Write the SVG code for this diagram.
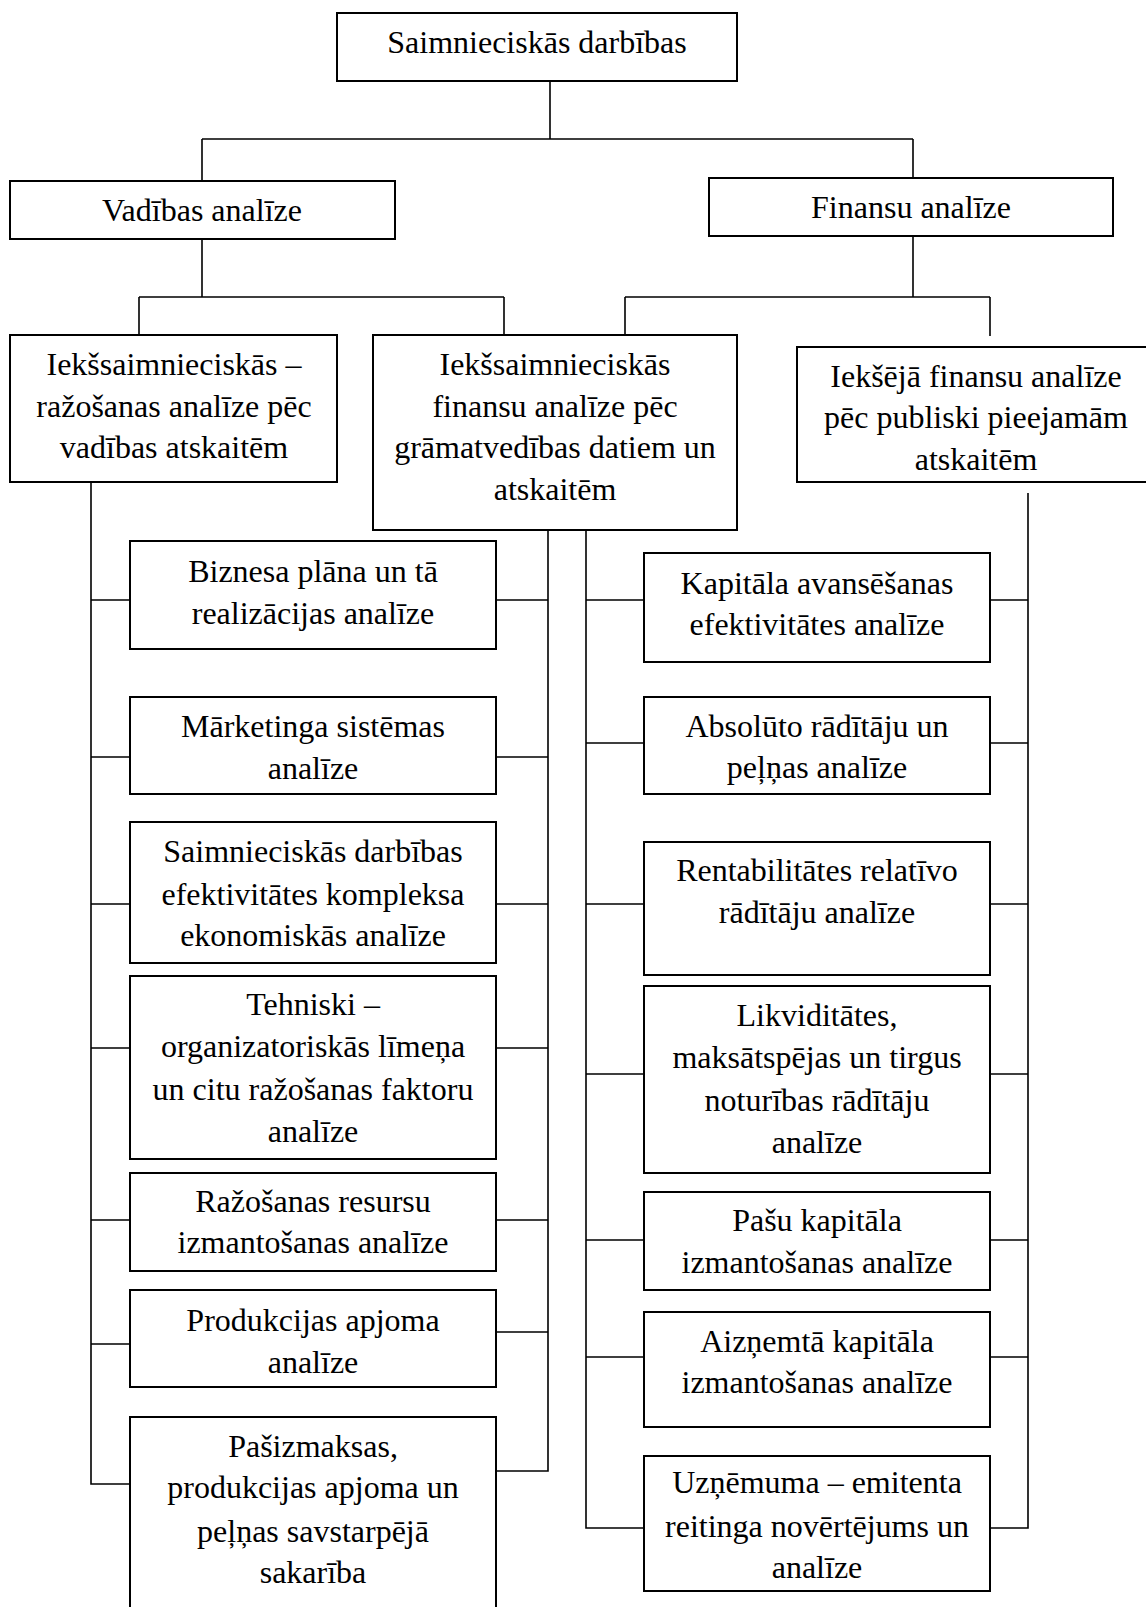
<svg xmlns="http://www.w3.org/2000/svg" width="1146" height="1607" viewBox="0 0 1146 1607">
<style>
.box{fill:#fff;stroke:#000;stroke-width:2}
.ln{fill:none;stroke:#000;stroke-width:1.6}
text{font-family:"Liberation Serif","Times New Roman",serif;font-size:32px;fill:#000;text-anchor:middle}
</style>
<rect width="1146" height="1607" fill="#fff"/>
<g id="connectors">
<path class="ln" d="M550 81V139M202 139H913M202 139V181M913 139V178"/>
<path class="ln" d="M202 239V297M139 297H504M139 297V335M504 297V335"/>
<path class="ln" d="M913 236V297M625 297H990M625 297V335M990 297V336"/>
<path class="ln" d="M91 482V1484H130M548 530V1471H496M586 530V1528H644M1028 493V1528H990"/>
<path class="ln" d="M91 600H130M496 600H548M91 757H130M496 757H548M91 904H130M496 904H548M91 1048H130M496 1048H548M91 1220H130M496 1220H548M91 1344H130M496 1332H548"/>
<path class="ln" d="M586 600H644M990 600H1028M586 743H644M990 743H1028M586 904H644M990 904H1028M586 1074H644M990 1074H1028M586 1240H644M990 1240H1028M586 1357H644M990 1357H1028"/>
</g>
<g id="root"><rect class="box" x="337" y="13" width="400" height="68"/><text x="537" y="53">Saimnieciskās darbības</text></g>
<g id="vadibas"><rect class="box" x="10" y="181" width="385" height="58"/><text x="202" y="221">Vadības analīze</text></g>
<g id="finansu"><rect class="box" x="709" y="178" width="404" height="58"/><text x="911" y="218">Finansu analīze</text></g>
<g id="iek1"><rect class="box" x="10" y="335" width="327" height="147"/><text x="174" y="375">Iekšsaimnieciskās –</text><text x="174" y="417">ražošanas analīze pēc</text><text x="174" y="458">vadības atskaitēm</text></g>
<g id="iek2"><rect class="box" x="373" y="335" width="364" height="195"/><text x="555" y="375">Iekšsaimnieciskās</text><text x="555" y="417">finansu analīze pēc</text><text x="555" y="458">grāmatvedības datiem un</text><text x="555" y="500">atskaitēm</text></g>
<g id="iek3"><rect class="box" x="797" y="347" width="360" height="135"/><text x="976" y="387">Iekšējā finansu analīze</text><text x="976" y="428">pēc publiski pieejamām</text><text x="976" y="470">atskaitēm</text></g>
<g id="l1"><rect class="box" x="130" y="541" width="366" height="108"/><text x="313" y="582">Biznesa plāna un tā</text><text x="313" y="624">realizācijas analīze</text></g>
<g id="l2"><rect class="box" x="130" y="697" width="366" height="97"/><text x="313" y="737">Mārketinga sistēmas</text><text x="313" y="779">analīze</text></g>
<g id="l3"><rect class="box" x="130" y="822" width="366" height="141"/><text x="313" y="862">Saimnieciskās darbības</text><text x="313" y="905">efektivitātes kompleksa</text><text x="313" y="946">ekonomiskās analīze</text></g>
<g id="l4"><rect class="box" x="130" y="976" width="366" height="183"/><text x="313" y="1015">Tehniski –</text><text x="313" y="1057">organizatoriskās līmeņa</text><text x="313" y="1100">un citu ražošanas faktoru</text><text x="313" y="1142">analīze</text></g>
<g id="l5"><rect class="box" x="130" y="1173" width="366" height="98"/><text x="313" y="1212">Ražošanas resursu</text><text x="313" y="1253">izmantošanas analīze</text></g>
<g id="l6"><rect class="box" x="130" y="1290" width="366" height="97"/><text x="313" y="1331">Produkcijas apjoma</text><text x="313" y="1373">analīze</text></g>
<g id="l7"><rect class="box" x="130" y="1417" width="366" height="210"/><text x="313" y="1457">Pašizmaksas,</text><text x="313" y="1498">produkcijas apjoma un</text><text x="313" y="1542">peļņas savstarpējā</text><text x="313" y="1583">sakarība</text></g>
<g id="r1"><rect class="box" x="644" y="553" width="346" height="109"/><text x="817" y="594">Kapitāla avansēšanas</text><text x="817" y="635">efektivitātes analīze</text></g>
<g id="r2"><rect class="box" x="644" y="697" width="346" height="97"/><text x="817" y="737">Absolūto rādītāju un</text><text x="817" y="778">peļņas analīze</text></g>
<g id="r3"><rect class="box" x="644" y="842" width="346" height="133"/><text x="817" y="881">Rentabilitātes relatīvo</text><text x="817" y="923">rādītāju analīze</text></g>
<g id="r4"><rect class="box" x="644" y="986" width="346" height="187"/><text x="817" y="1026">Likviditātes,</text><text x="817" y="1068">maksātspējas un tirgus</text><text x="817" y="1111">noturības rādītāju</text><text x="817" y="1153">analīze</text></g>
<g id="r5"><rect class="box" x="644" y="1192" width="346" height="98"/><text x="817" y="1231">Pašu kapitāla</text><text x="817" y="1273">izmantošanas analīze</text></g>
<g id="r6"><rect class="box" x="644" y="1312" width="346" height="115"/><text x="817" y="1352">Aizņemtā kapitāla</text><text x="817" y="1393">izmantošanas analīze</text></g>
<g id="r7"><rect class="box" x="644" y="1456" width="346" height="135"/><text x="817" y="1493">Uzņēmuma – emitenta</text><text x="817" y="1537">reitinga novērtējums un</text><text x="817" y="1578">analīze</text></g>
</svg>
